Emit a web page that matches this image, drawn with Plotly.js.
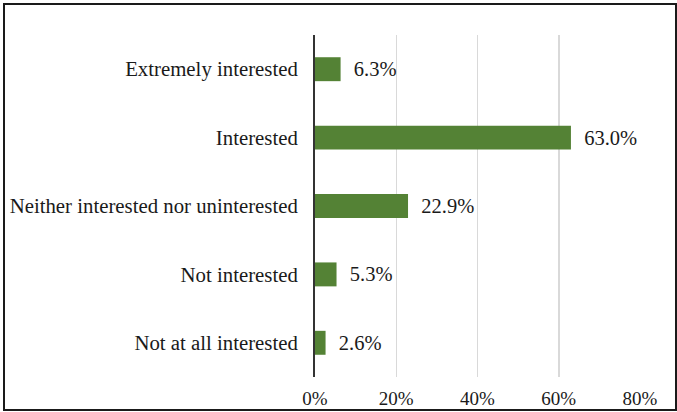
<!DOCTYPE html>
<html><head><meta charset="utf-8">
<script src="https://cdn.plot.ly/plotly-3.0.1.min.js"></script>
<style>
html,body{margin:0;padding:0;background:#fff;}
#wrap{position:relative;width:677px;height:412px;}
#chart{position:absolute;left:0;top:0;width:677px;height:412px;}
#frame{position:absolute;left:3px;top:3px;width:670px;height:404px;border:2px solid #1a1a1a;pointer-events:none;}
</style></head>
<body>
<div id="wrap"><div id="chart"></div><div id="frame"></div></div>
<script>
const categories = ["Extremely interested","Interested","Neither interested nor uninterested","Not interested","Not at all interested"];
const values = [6.3, 63.0, 22.9, 5.3, 2.6];
const tickVals = [0,20,40,60,80];
const tickText = ["0%","20%","40%","60%","80%"];

const labelFont = {family:"Liberation Serif", size:20.8, color:"#1a1a1a"};
const valueFont = {family:"Liberation Serif", size:20.5, color:"#1a1a1a"};
const tickFont = {family:"Liberation Serif", size:19, color:"#1a1a1a"};
Plotly.newPlot("chart", [{
  type:"bar", orientation:"h",
  x: values, y: categories,
  marker:{color:"#548235"},
  text: values.map(v => "  " + v.toFixed(1) + "%"),
  textposition:"outside", cliponaxis:false,
  textfont: valueFont,
  hoverinfo:"none", width:0.35
}], {
  width:677, height:412,
  margin:{l:315, r:37, t:35, b:35},
  paper_bgcolor:"#fff", plot_bgcolor:"#fff",
  font: labelFont,
  showlegend:false,
  xaxis:{range:[0,80], tickvals:tickVals, ticktext:tickText, showgrid:true, gridcolor:"#d9d9d9", gridwidth:1.5,
         zeroline:false, showline:false, ticks:"", tickfont:tickFont, ticklabelstandoff:8, fixedrange:true},
  yaxis:{autorange:"reversed", showline:true, linecolor:"#333", linewidth:2, ticks:"", showgrid:false,
         tickfont:labelFont, ticklabelstandoff:11, fixedrange:true}
}, {displayModeBar:false, staticPlot:true});
</script>
</body></html>
